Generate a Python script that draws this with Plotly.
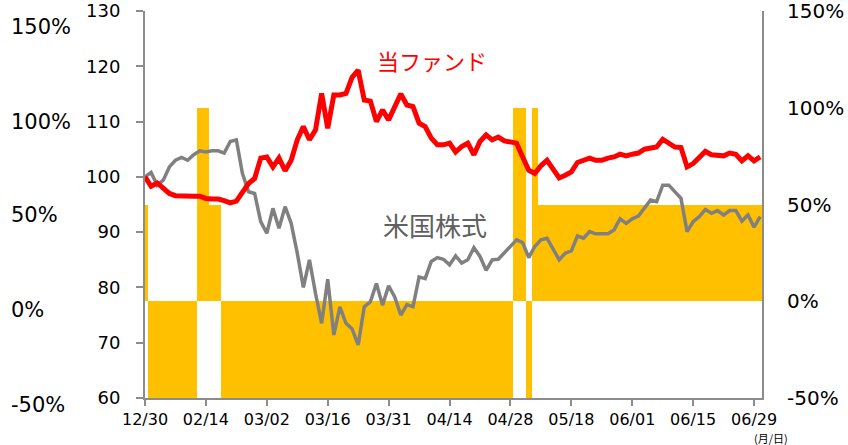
import plotly.graph_objects as go

dates = ["12/30", "01/31", "02/03", "02/04", "02/05", "02/06", "02/07", "02/10", "02/12", "02/13", "02/14",
         "02/17", "02/18", "02/19", "02/20", "02/21", "02/25", "02/26", "02/27", "02/28", "03/02",
         "03/03", "03/04", "03/05", "03/06", "03/09", "03/10", "03/11", "03/12", "03/13", "03/16",
         "03/17", "03/18", "03/19", "03/23", "03/24", "03/25", "03/26", "03/27", "03/30", "03/31",
         "04/01", "04/02", "04/03", "04/06", "04/07", "04/08", "04/09", "04/10", "04/13", "04/14",
         "04/15", "04/16", "04/17", "04/20", "04/21", "04/22", "04/23", "04/24", "04/27", "04/28",
         "04/30", "05/01", "05/07", "05/08", "05/11", "05/12", "05/13", "05/14", "05/15", "05/18",
         "05/19", "05/20", "05/21", "05/22", "05/25", "05/26", "05/27", "05/28", "05/29", "06/01",
         "06/02", "06/03", "06/04", "06/05", "06/08", "06/09", "06/10", "06/11", "06/12", "06/15",
         "06/16", "06/17", "06/18", "06/19", "06/22", "06/23", "06/24", "06/25", "06/26", "06/29", "06/30"]

tick_labels = ["12/30", "02/14", "03/02", "03/16", "03/31", "04/14", "04/28", "05/18", "06/01", "06/15", "06/29"]

# fund allocation (%), right axis
allocation = [50,
              -50, -50, -50, -50, -50, -50, -50, -50,
              100, 100,
              50, 50,
              -50, -50, -50, -50, -50, -50, -50, -50, -50, -50, -50, -50,
              -50, -50, -50, -50, -50, -50, -50, -50, -50, -50, -50, -50,
              -50, -50, -50, -50, -50, -50, -50, -50, -50, -50, -50, -50,
              -50, -50, -50, -50, -50, -50, -50, -50, -50, -50, -50, -50,
              100, 100,
              -50,
              100,
              50, 50, 50, 50, 50, 50, 50, 50, 50, 50, 50, 50, 50, 50, 50, 50, 50, 50, 50,
              50, 50, 50, 50, 50, 50, 50, 50, 50, 50, 50, 50, 50, 50, 50, 50, 50, 50]

fund = [100.0, 98.3, 98.9, 97.9, 97.0, 96.6, 96.5, 96.5, 96.5, 96.5, 96.1,
        96.0, 96.0, 95.7, 95.3, 95.6, 97.3, 98.8, 99.7, 103.4, 103.6,
        101.8, 103.4, 101.1, 103.0, 106.7, 109.1, 106.7, 108.5, 115.1, 108.8,
        114.8, 114.8, 115.1, 118.0, 119.3, 113.9, 113.7, 110.0, 112.1, 110.3,
        112.7, 115.0, 113.0, 112.7, 109.7, 109.1, 107.0, 105.8, 105.8, 106.1,
        104.5, 105.5, 106.1, 104.0, 106.4, 107.6, 106.7, 107.2, 106.5, 106.4,
        106.1, 103.6, 101.2, 100.6, 102.0, 103.0, 101.2, 99.8, 100.3, 100.9,
        102.6, 103.0, 103.4, 103.0, 103.0, 103.4, 103.6, 104.1, 103.8, 104.1,
        104.3, 105.0, 105.3, 105.4, 106.8, 106.1, 105.4, 105.3, 101.8, 102.4,
        103.4, 104.6, 104.0, 103.8, 103.8, 104.3, 104.1, 102.9, 103.8, 102.9, 103.6]

us_stocks = [100.0, 100.8, 98.5, 99.4, 101.8, 103.0, 103.5, 103.0, 104.0, 104.7, 104.5,
             104.7, 104.7, 104.3, 106.4, 106.7, 100.6, 97.3, 97.0, 91.9, 89.8,
             94.3, 90.7, 94.6, 91.6, 86.2, 80.0, 85.0, 78.9, 73.5, 81.5,
             71.4, 76.5, 73.5, 72.5, 69.6, 76.5, 77.4, 80.7, 76.8, 80.3,
             78.3, 75.0, 76.9, 76.5, 81.9, 81.6, 84.7, 85.4, 85.1, 84.1,
             85.7, 84.4, 85.0, 87.2, 85.6, 83.1, 85.0, 85.1, 86.2, 87.4,
             88.6, 88.1, 85.4, 87.4, 88.6, 88.9, 86.8, 85.0, 86.2, 86.6,
             89.3, 88.9, 90.1, 89.7, 89.7, 89.7, 90.4, 92.4, 91.6, 92.4,
             92.9, 94.4, 95.8, 95.5, 98.5, 98.5, 97.3, 96.1, 90.1, 91.9,
             92.8, 94.1, 93.4, 93.9, 93.1, 93.9, 93.9, 92.0, 93.1, 90.9, 92.8]

pct_labels = ["150%", "100%", "50%", "0%", "-50%"]

W, H = 848, 445
PL, PR, PT, PB = 145, 762, 11, 398          # plot area in window pixels
L, T, R, B = PL, PT, W - PR, H - PB
plot_h = PB - PT
plot_w = PR - PL

AXIS_GRAY = "#8c8c8c"
TICK_FONT = "DejaVu Sans"

fig = go.Figure()
fig.add_trace(go.Bar(x=dates, y=allocation, yaxis="y", marker=dict(color="#FFC000", line=dict(width=0)),
                     showlegend=False, hoverinfo="skip"))
fig.add_trace(go.Scatter(x=dates, y=us_stocks, yaxis="y2", mode="lines",
                         line=dict(color="#808080", width=3.5), showlegend=False))
fig.add_trace(go.Scatter(x=dates, y=fund, yaxis="y2", mode="lines",
                         line=dict(color="#FF0000", width=5), showlegend=False))

annotations = []
left_pct_px = [27, 122, 215, 310, 405]
for lab, py in zip(pct_labels, left_pct_px):
    annotations.append(dict(text=lab, xref="paper", yref="paper", x=(9 - PL) / plot_w,
                            y=(PB - py) / plot_h, xanchor="left", yanchor="middle",
                            showarrow=False, font=dict(family=TICK_FONT, size=21, color="#000")))
annotations.append(dict(text="当ファンド", xref="paper", yref="y2", x=(432 - PL) / plot_w, y=121.2,
                        xanchor="center", yanchor="middle", showarrow=False,
                        font=dict(family="Noto Sans CJK JP", size=22, color="#FF0000")))
annotations.append(dict(text="米国株式", xref="paper", yref="y2", x=(435 - PL) / plot_w, y=91.3,
                        xanchor="center", yanchor="middle", showarrow=False,
                        font=dict(family="Noto Sans CJK JP", size=26, color="#606060")))
annotations.append(dict(text="(月/日)", xref="paper", yref="paper", x=(771 - PL) / plot_w,
                        y=(PB - 438) / plot_h, xanchor="center", yanchor="middle", showarrow=False,
                        font=dict(family="Noto Sans CJK JP", size=11, color="#000")))

fig.update_layout(
    width=W, height=H,
    margin=dict(l=L, r=R, t=T, b=B, pad=0, autoexpand=False),
    paper_bgcolor="white", plot_bgcolor="white",
    bargap=0,
    showlegend=False,
    annotations=annotations,
    xaxis=dict(type="category", categoryorder="array", categoryarray=dates,
               range=[0, 101.3], tickmode="array", tickvals=tick_labels, ticktext=tick_labels,
               ticks="outside", ticklen=6, tickwidth=2, tickcolor=AXIS_GRAY, automargin=False,
               showline=True, linecolor=AXIS_GRAY, linewidth=2, showgrid=False, zeroline=False,
               ticklabeloverflow="allow",
               tickfont=dict(family=TICK_FONT, size=16, color="#000"), tickangle=0),
    yaxis=dict(side="right", range=[-50, 150], tickmode="array", tickvals=[150, 100, 50, 0, -50],
               ticktext=pct_labels, ticks="", ticklen=0, showline=True, linecolor=AXIS_GRAY, linewidth=2,
               showgrid=False, zeroline=False, ticklabelstandoff=19, automargin=False,
               ticklabeloverflow="allow",
               tickfont=dict(family=TICK_FONT, size=20, color="#000")),
    yaxis2=dict(overlaying="y", side="left", range=[60, 130], dtick=10, tick0=60,
                ticks="outside", ticklen=7, tickwidth=2, tickcolor=AXIS_GRAY, automargin=False,
                showline=True, linecolor=AXIS_GRAY, linewidth=2, showgrid=False, zeroline=False,
                ticklabelstandoff=12, ticklabeloverflow="allow",
                tickfont=dict(family=TICK_FONT, size=18, color="#000")),
)

fig.write_html("out.html", config={"displayModeBar": False},
               post_script="document.body.style.margin='0';")
